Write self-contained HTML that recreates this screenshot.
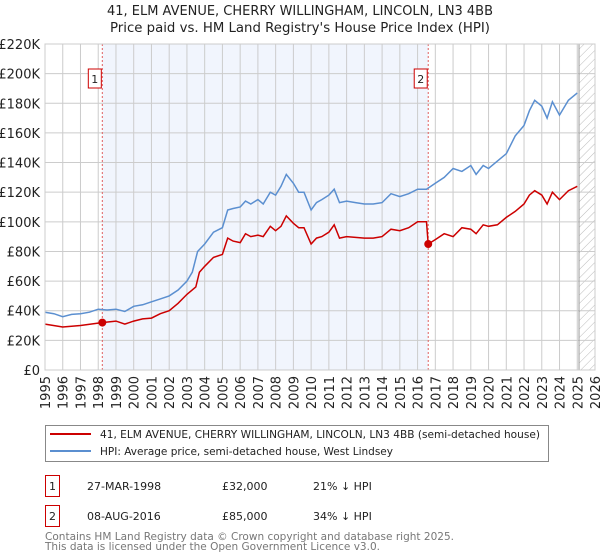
<!DOCTYPE html>
<html><head><meta charset="utf-8"><style>
body{margin:0;background:#fff;font-family:"DejaVu Sans","Liberation Sans",sans-serif;}
#wrap{position:relative;width:600px;height:560px;overflow:hidden}
.t{font-size:13px;fill:#222}
</style></head><body><div id="wrap">
<svg id="svg" width="600" height="560" xmlns="http://www.w3.org/2000/svg" font-family="DejaVu Sans, Liberation Sans, sans-serif">
<defs><pattern id="hatch" width="6" height="6" patternUnits="userSpaceOnUse" patternTransform="rotate(45)"><line x1="0" y1="0" x2="0" y2="6" stroke="#bbb" stroke-width="1"/></pattern></defs>
<text x="300" y="15" text-anchor="middle" class="t" textLength="386" lengthAdjust="spacingAndGlyphs">41, ELM AVENUE, CHERRY WILLINGHAM, LINCOLN, LN3 4BB</text>
<text x="300" y="32" text-anchor="middle" class="t" textLength="380" lengthAdjust="spacingAndGlyphs">Price paid vs. HM Land Registry's House Price Index (HPI)</text>
<g id="plot"></g>
<rect x="45.5" y="425.5" width="503" height="36" fill="#fff" stroke="#888"/>
<line x1="50" y1="434" x2="91" y2="434" stroke="#cc0000" stroke-width="2"/>
<text x="100" y="438" font-size="11" fill="#222" textLength="440" lengthAdjust="spacingAndGlyphs">41, ELM AVENUE, CHERRY WILLINGHAM, LINCOLN, LN3 4BB (semi-detached house)</text>
<line x1="50" y1="451" x2="91" y2="451" stroke="#5b8fd0" stroke-width="2"/>
<text x="100" y="455" font-size="11" fill="#222" textLength="293" lengthAdjust="spacingAndGlyphs">HPI: Average price, semi-detached house, West Lindsey</text>
<g>
<rect x="45.5" y="475.5" width="14" height="21" fill="#fff" stroke="#cc0000"/><text x="52.5" y="490" text-anchor="middle" font-size="11" fill="#222">1</text>
<text x="87" y="490" font-size="11" fill="#222">27-MAR-1998</text><text x="222" y="490" font-size="11" fill="#222">£32,000</text><text x="313" y="490" font-size="11" fill="#222">21% ↓ HPI</text></g>
<g>
<rect x="45.5" y="505.5" width="14" height="21" fill="#fff" stroke="#cc0000"/><text x="52.5" y="520" text-anchor="middle" font-size="11" fill="#222">2</text>
<text x="87" y="520" font-size="11" fill="#222">08-AUG-2016</text><text x="222" y="520" font-size="11" fill="#222">£85,000</text><text x="313" y="520" font-size="11" fill="#222">34% ↓ HPI</text></g>
<text x="45" y="540" font-size="11" fill="#777" textLength="409" lengthAdjust="spacingAndGlyphs">Contains HM Land Registry data © Crown copyright and database right 2025.</text>
<text x="45" y="550" font-size="11" fill="#777" textLength="335" lengthAdjust="spacingAndGlyphs">This data is licensed under the Open Government Licence v3.0.</text>
</svg></div>
<script>
const yTicks=[0,20,40,60,80,100,120,140,160,180,200,220];
const years=[1995,1996,1997,1998,1999,2000,2001,2002,2003,2004,2005,2006,2007,2008,2009,2010,2011,2012,2013,2014,2015,2016,2017,2018,2019,2020,2021,2022,2023,2024,2025,2026];
const hpiT=[1995,1995.5,1996,1996.5,1997,1997.5,1998,1998.5,1999,1999.5,2000,2000.5,2001,2001.5,2002,2002.5,2003,2003.3,2003.6,2004,2004.5,2005,2005.3,2005.6,2006,2006.3,2006.6,2007,2007.3,2007.7,2008,2008.3,2008.6,2009,2009.3,2009.6,2010,2010.3,2010.6,2011,2011.3,2011.6,2012,2012.5,2013,2013.5,2014,2014.5,2015,2015.5,2016,2016.5,2017,2017.5,2018,2018.5,2019,2019.3,2019.7,2020,2020.5,2021,2021.5,2022,2022.3,2022.6,2023,2023.3,2023.6,2024,2024.5,2025];
const hpiV=[39,38,36,37.5,38,39,41,40.5,41,39.5,43,44,46,48,50,54,60,66,80,85,93,96,108,109,110,114,112,115,112,120,118,124,132,126,120,120,108,113,115,118,122,113,114,113,112,112,113,119,117,119,122,122,126,130,136,134,138,132,138,136,141,146,158,165,175,182,178,170,181,172,182,187];
const ppT=[1995,1996,1997,1998.2,1999,1999.5,2000,2000.5,2001,2001.5,2002,2002.5,2003,2003.5,2003.7,2004,2004.5,2005,2005.3,2005.6,2006,2006.3,2006.6,2007,2007.3,2007.7,2008,2008.3,2008.6,2009,2009.3,2009.6,2010,2010.3,2010.6,2011,2011.3,2011.6,2012,2013,2013.5,2014,2014.5,2015,2015.5,2016,2016.5,2016.6,2017,2017.5,2018,2018.5,2019,2019.3,2019.7,2020,2020.5,2021,2021.5,2022,2022.3,2022.6,2023,2023.3,2023.6,2024,2024.5,2025];
const ppV=[31,29,30,32,33,31,33,34.5,35,38,40,45,51,56,66,70,76,78,89,87,86,92,90,91,90,97,94,97,104,99,96,96,85,89,90,93,98,89,90,89,89,90,95,94,96,100,100,85,88,92,90,96,95,92,98,97,98,103,107,112,118,121,118,112,120,115,121,124];
const saleT=[1998.23,2016.6];
const saleV=[32,85];
const saleLabels=["1","2"];
const X0=45,X1=595,Y0=370,Y1=44;
const x=t=>X0+(t-1995)/(2026-1995)*(X1-X0);
const y=v=>Y0-v/220*(Y0-Y1);
const NS="http://www.w3.org/2000/svg",g=document.getElementById('plot');
function mk(tag,a){const e=document.createElementNS(NS,tag);for(const k in a)e.setAttribute(k,a[k]);g.appendChild(e);return e;}
let e;
e=mk('rect',{x:x(saleT[0]),y:Y1,width:x(saleT[1])-x(saleT[0]),height:Y0-Y1,fill:'#eef3fc',opacity:0.8});


e=mk('rect',{x:x(2025.1),y:Y1,width:X1-x(2025.1),height:Y0-Y1,fill:'url(#hatch)'});


yTicks.forEach(v=>{
 e=mk('line',{x1:X0,x2:X1,y1:y(v),y2:y(v),stroke:'#ccc'});
 
 
 e=mk('text',{x:X0-5,y:y(v)+5,'text-anchor':'end','font-size':'13',fill:'#222'});
 e.textContent=v===0?'£0':'£'+v+'K';
 
 
});
years.forEach(t=>{
 e=mk('line',{x1:x(t),x2:x(t),y1:Y1,y2:Y0,stroke:'#ccc'});
 
 
 e=mk('text',{x:0,y:0,'font-size':'13',fill:'#222','text-anchor':'end',transform:`translate(${x(t)+5},${Y0+6}) rotate(-90)`});
 e.textContent=t;
 
 
});
e=mk('line',{x1:x(2025.1),x2:x(2025.1),y1:Y1,y2:Y0,stroke:'#999'});


saleT.forEach((t,i)=>{
 e=mk('line',{x1:x(t),x2:x(t),y1:Y1,y2:Y0,stroke:'#e06060','stroke-dasharray':'2,2'});
 
 
});
const path=(T,V)=>T.map((t,i)=>(i?'L':'M')+x(t).toFixed(1)+','+y(V[i]).toFixed(1)).join('');
e=mk('path',{d:path(hpiT,hpiV),fill:'none',stroke:'#5b8fd0','stroke-width':1.5});


e=mk('path',{d:path(ppT,ppV),fill:'none',stroke:'#cc0000','stroke-width':1.5});


saleT.forEach((t,i)=>{
 e=mk('circle',{cx:x(t),cy:y(saleV[i]),r:4,fill:'#cc0000'});
 
 
 e=mk('rect',{x:x(t)-14,y:69,width:13,height:19,fill:'#fff',stroke:'#cc0000'});
 
 
 e=mk('text',{x:x(t)-7.5,y:83,'text-anchor':'middle','font-size':'11',fill:'#222'});
 e.textContent=saleLabels[i];
 
 
});
e=mk('rect',{x:X0,y:Y1,width:X1-X0,height:Y0-Y1,fill:'none',stroke:'#ccc'});


</script></body></html>
